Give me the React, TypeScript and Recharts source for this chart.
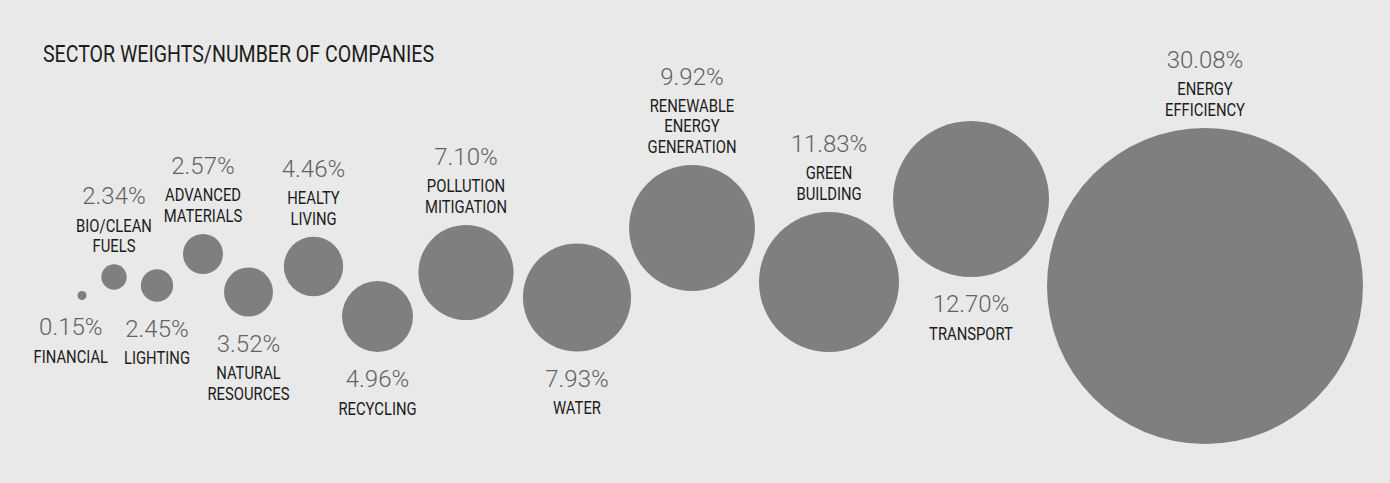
import { Scatter, ScatterChart, XAxis, YAxis, ZAxis } from "recharts";

// sectors, left to right as laid out in the graphic
const sectors = [
  "FINANCIAL",
  "BIO/CLEAN FUELS",
  "LIGHTING",
  "ADVANCED MATERIALS",
  "NATURAL RESOURCES",
  "HEALTY LIVING",
  "RECYCLING",
  "POLLUTION MITIGATION",
  "WATER",
  "RENEWABLE ENERGY GENERATION",
  "GREEN BUILDING",
  "TRANSPORT",
  "ENERGY EFFICIENCY",
];

// sector weight (%)
const weights = [0.15, 2.34, 2.45, 2.57, 3.52, 4.46, 4.96, 7.1, 7.93, 9.92, 11.83, 12.7, 30.08];

// bubble size ~ number of companies
const companies = [1, 8, 13, 20, 30, 44, 63, 113, 146, 198, 245, 304, 1248];

// free layout of the bubbles (no real axis meaning)
const layoutX = [8.2, 11.4, 15.7, 20.3, 24.85, 31.35, 37.75, 46.6, 57.7, 69.2, 82.9, 97.1, 120.5];
const layoutY = [18.75, 20.6, 19.75, 22.9, 19.1, 21.65, 16.65, 21.05, 18.55, 25.5, 20.1, 28.4, 19.7];

const labelSide = [
  "below-left", "above", "below", "above", "below", "above", "below",
  "above", "below", "above", "above", "below", "above",
];

const data = sectors.map((name, i) => ({
  name,
  weight: weights[i],
  x: layoutX[i],
  y: layoutY[i],
  z: companies[i],
  side: labelSide[i],
}));

const W = 1390;
const H = 483;
const MAX_R = 158;

const pctFormat = (v: number) => `${v.toFixed(2)}%`;

function PctText({ x, yc, value }: { x: number; yc: number; value: number }) {
  return (
    <text
      x={x}
      y={yc + 8.5}
      textAnchor="middle"
      fontFamily="Roboto, sans-serif"
      fontWeight={300}
      fontSize={24}
      fill="#626262"
    >
      {pctFormat(value)}
    </text>
  );
}

function NameText({ x, yc, text }: { x: number; yc: number; text: string }) {
  return (
    <text
      transform={`translate(${x},${yc + 6.7}) scale(0.78,1)`}
      textAnchor="middle"
      fontFamily="Roboto, sans-serif"
      fontSize={19}
      fill="#1c1c1c"
    >
      {text}
    </text>
  );
}

function Bubble(props: any) {
  const { cx, cy, payload } = props;
  const size = props.size ?? Math.PI * (props.width / 2) ** 2;
  const r = Math.sqrt(Math.max(size, 0) / Math.PI);
  const lines: string[] = payload.name.split(" ");
  const step = 20.5;

  let pctY: number;
  let lineYs: number[];
  let lx = cx;
  if (payload.side === "above") {
    const last = cy - r - 19;
    lineYs = lines.map((_, i) => last - (lines.length - 1 - i) * step);
    pctY = lineYs[0] - 29;
  } else {
    // tiny bubbles push their label out to the left a bit
    if (payload.side === "below-left") lx = cx - 2.5 * r;
    pctY = cy + r + 27;
    lineYs = lines.map((_, i) => pctY + 29 + i * step);
  }

  return (
    <g>
      <circle cx={cx} cy={cy} r={r} fill="#7f7f7f" />
      <PctText x={lx} yc={pctY} value={payload.weight} />
      {lines.map((l, i) => (
        <NameText key={l} x={lx} yc={lineYs[i]} text={l} />
      ))}
    </g>
  );
}

export default function App() {
  return (
    <div
      style={{
        position: "absolute",
        left: 0,
        top: 0,
        width: W,
        height: H,
        background: "#e9e9e9",
        overflow: "hidden",
      }}
    >
      <div
        style={{
          position: "absolute",
          left: 43,
          top: 42,
          fontFamily: "Roboto, sans-serif",
          fontSize: 24,
          lineHeight: "24px",
          color: "#1c1c1c",
          whiteSpace: "nowrap",
          transform: "scaleX(0.815)",
          transformOrigin: "left top",
        }}
      >
        SECTOR WEIGHTS/NUMBER OF COMPANIES
      </div>
      <ScatterChart width={W} height={H} margin={{ top: 0, right: 0, bottom: 0, left: 0 }}>
        <XAxis type="number" dataKey="x" domain={[0, 139]} hide />
        <YAxis type="number" dataKey="y" domain={[0, 48.3]} hide />
        <ZAxis type="number" dataKey="z" domain={[0, 1248]} range={[0, Math.PI * MAX_R * MAX_R]} />
        <Scatter data={data} shape={Bubble} isAnimationActive={false} />
      </ScatterChart>
    </div>
  );
}
